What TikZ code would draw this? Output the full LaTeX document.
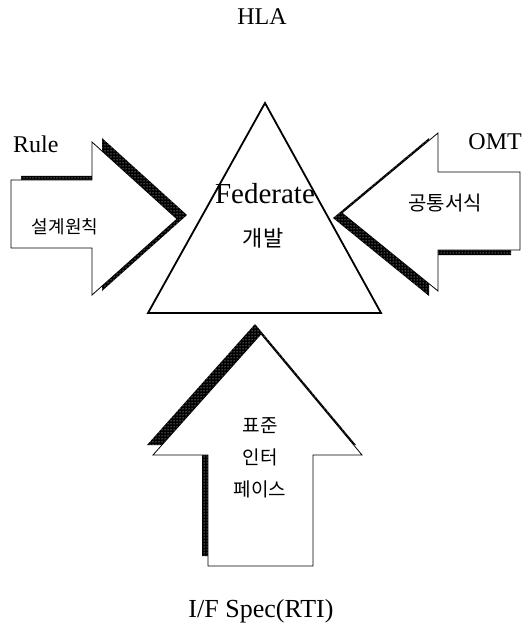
\documentclass[tikz,border=0pt]{standalone}
\usepackage{fontspec}
\setmainfont{Liberation Serif}
\newfontfamily\kr{Noto Sans CJK KR}
\usepackage{tikz}
\usetikzlibrary{patterns}

% outlines of the three big arrows (pixel units, y downwards)
\def\ruleshape{(11,180) -- (92,180) -- (92,142) -- (177,219) -- (92,295) -- (92,248) -- (11,248) -- cycle}
\def\omtshape{(520,172) -- (438,172) -- (438,133) -- (342,213) -- (438,291) -- (438,250) -- (520,250) -- cycle}
\def\rtishape{(208,566) -- (208,455) -- (153,455) -- (261,334) -- (362,455) -- (313,455) -- (313,566) -- cycle}

\begin{document}
\begin{tikzpicture}[x=1pt, y=-1pt,
        body/.style={draw, fill=white, line width=0.8pt, line join=miter},
        shade/.style={preaction={fill=black}, pattern=dots, pattern color=white},
        tri/.style={draw, line width=1.8pt, line join=miter},
        lbl/.style={inner sep=0pt, font=\fontsize{24}{28}\selectfont},
        krlbl/.style={inner sep=0pt, font=\kr\fontsize{18}{22}\selectfont}]
    \useasboundingbox (0,0) rectangle (523,628);

    % HLA triangle
    \coordinate (apex) at (265,103);
    \coordinate (bl) at (148,313);
    \coordinate (br) at (381,313);
    \draw[tri] (apex) -- (bl) -- (br) -- cycle;

    % arrows with their shadows
    \fill[shade, shift={(10,-4)}] \ruleshape;
    \draw[body] \ruleshape;
    \fill[shade, shift={(-9,5)}] \omtshape;
    \draw[body] \omtshape;
    \fill[shade, shift={(-6,-10)}] \rtishape;
    \draw[body] \rtishape;

    % labels
    \node[lbl] (hla) at (262,17) {HLA};
    \node[lbl, anchor=base west] (rule) at (13,153) {Rule};
    \node[lbl, anchor=base east] (omt) at (522,150) {OMT};
    \node[lbl, anchor=base, font=\fontsize{29}{34}\selectfont] (fed) at (265,204) {Federate};
    \node[krlbl, font=\kr\fontsize{22}{26}\selectfont] (dev) at (263,238) {개발};
    \node[krlbl] (design) at (65,227) {설계원칙};
    \node[krlbl, font=\kr\fontsize{20}{24}\selectfont] (common) at (445,203) {공통서식};
    \node[krlbl, align=center, font=\kr\fontsize{19}{32}\selectfont] (iface) at (260,458) {표준\\인터\\페이스};
    \node[lbl, anchor=base, font=\fontsize{26}{30}\selectfont] (spec) at (261,617) {I/F Spec(RTI)};
\end{tikzpicture}
\end{document}
